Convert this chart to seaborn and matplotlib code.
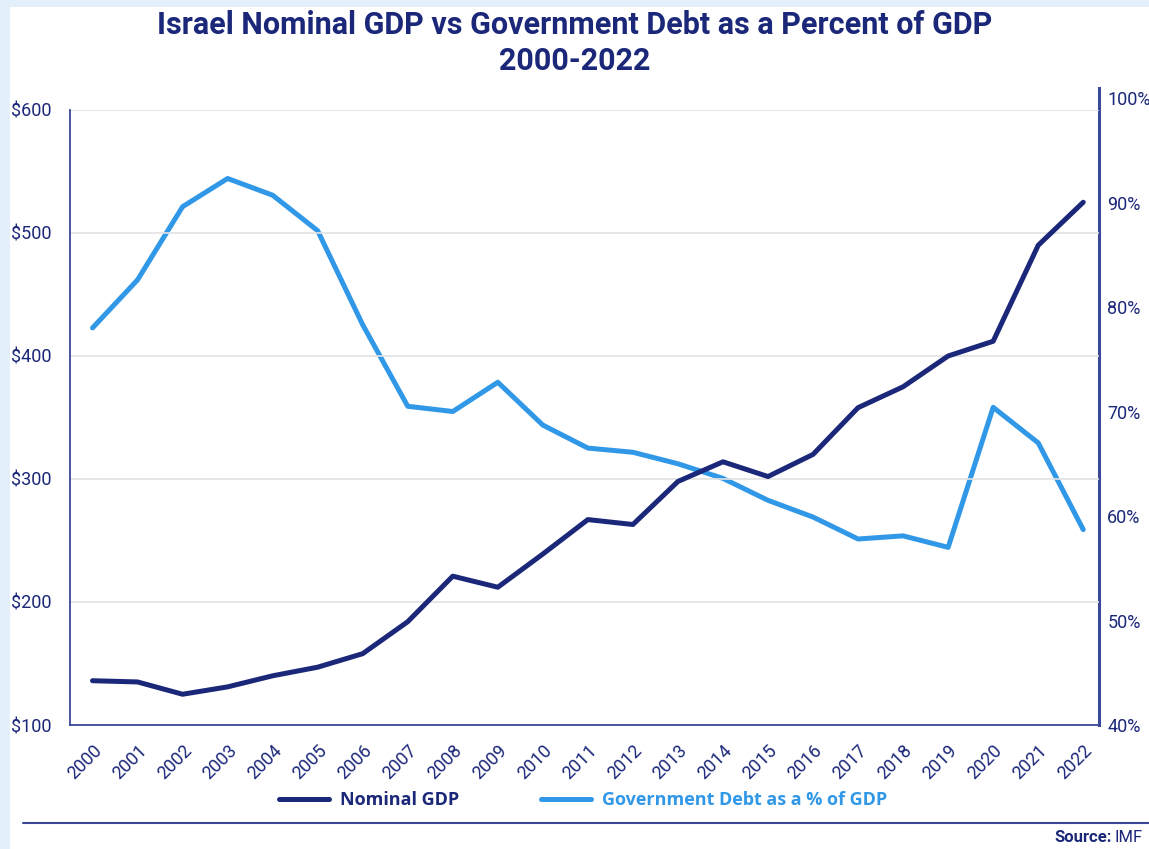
import matplotlib
matplotlib.use("Agg")
import matplotlib.pyplot as plt
import seaborn as sns
import pandas as pd
from matplotlib.patches import Rectangle
from matplotlib.ticker import FuncFormatter

# data
years = [str(y) for y in range(2000, 2023)]
nominal_gdp = [136, 135, 125, 131, 140, 147, 158, 184, 221, 212, 239, 267,
               263, 298, 314, 302, 320, 358, 375, 400, 412, 490, 525]
debt_pct = [78.0, 82.6, 89.6, 92.3, 90.7, 87.3, 78.3, 70.5, 70.0, 72.8, 68.7,
            66.5, 66.1, 65.0, 63.6, 61.5, 59.9, 57.8, 58.1, 57.0, 70.4, 67.0, 58.7]
gdp_ticks = [100, 200, 300, 400, 500, 600]
debt_ticks = [40, 50, 60, 70, 80, 90, 100]

NAVY = "#1b2779"
SPINE = "#3b4899"
LIGHT = "#3198e8"

df = pd.DataFrame({"year": years, "gdp": nominal_gdp, "debt": debt_pct})
df["x"] = range(len(df))

sns.set_style("white")
plt.rcParams["font.family"] = ["Roboto", "DejaVu Sans"]

fig = plt.figure(figsize=(11.49, 8.49), dpi=100)
fig.patch.set_facecolor("#e3f0fb")
fig.patches.append(Rectangle((10 / 1149, 0), 1, 1 - 7 / 849, transform=fig.transFigure,
                             facecolor="white", edgecolor="none", zorder=-5))

# right axis (debt) is a bit taller than the left one in the reference
ax2 = fig.add_axes([70 / 1149, 1 - 725 / 849, 1029 / 1149, 637 / 849])
ax2.patch.set_alpha(0)
ax = fig.add_axes([70 / 1149, 1 - 725 / 849, 1029 / 1149, 615 / 849])
ax.patch.set_alpha(0)

sns.lineplot(data=df, x="x", y="debt", ax=ax2, color=LIGHT, linewidth=3.6,
             label="Government Debt as a % of GDP", legend=False)
sns.lineplot(data=df, x="x", y="gdp", ax=ax, color=NAVY, linewidth=3.6,
             label="Nominal GDP", legend=False)

ax.set_xlim(-0.5, 22.35)
ax2.set_xlim(-0.5, 22.35)
ax.set_ylim(100, 600)
ax2.set_ylim(40, 100.96)

ax.set_yticks(gdp_ticks)
ax.yaxis.set_major_formatter(FuncFormatter(lambda v, p: f"${v:.0f}"))
ax2.yaxis.tick_right()
ax2.set_yticks(debt_ticks)
ax2.yaxis.set_major_formatter(FuncFormatter(lambda v, p: f"{v:.0f}%"))
ax2.set_xticks([])
ax.set_xticks(df["x"])
ax.set_xticklabels(years, rotation=45, ha="right", rotation_mode="anchor")

ax.grid(axis="y", color="#e2e2e2", linewidth=1.2)
ax.grid(axis="x", visible=False)
ax2.grid(False)
for a in (ax, ax2):
    a.set_xlabel("")
    a.set_ylabel("")

for s in ["top", "right"]:
    ax.spines[s].set_visible(False)
for s in ["top", "left", "bottom"]:
    ax2.spines[s].set_visible(False)
for s in ["left", "bottom"]:
    ax.spines[s].set_color(SPINE)
    ax.spines[s].set_linewidth(1.3)
ax2.spines["right"].set_color(SPINE)
ax2.spines["right"].set_linewidth(2.2)

ax.tick_params(axis="y", length=9, width=1.3, color=SPINE, labelcolor=NAVY,
               labelsize=13, pad=4)
ax.tick_params(axis="x", length=9, width=1.3, color=SPINE, labelcolor=NAVY,
               labelsize=13, pad=3)
ax2.tick_params(axis="y", length=0, labelcolor=NAVY, labelsize=13, pad=6)

fig.text(0.5, 1 - 25 / 849, "Israel Nominal GDP vs Government Debt as a Percent of GDP",
         ha="center", va="center", fontsize=22, fontweight="bold", color=NAVY)
fig.text(0.5, 1 - 61 / 849, "2000-2022", ha="center", va="center", fontsize=22,
         fontweight="bold", color=NAVY)

handles = ax.get_lines()[:1] + ax2.get_lines()[:1]
leg = fig.legend(handles, [h.get_label() for h in handles], loc="center",
                 bbox_to_anchor=(583 / 1149, 1 - 800 / 849), ncol=2, frameon=False,
                 handlelength=2.8, handletextpad=0.6, columnspacing=4.5,
                 prop={"family": ["Open Sans", "DejaVu Sans"], "weight": "bold", "size": 13})
for txt, c in zip(leg.get_texts(), [NAVY, LIGHT]):
    txt.set_color(c)

fig.add_artist(plt.Line2D([23 / 1149, 1], [1 - 823 / 849] * 2, transform=fig.transFigure,
                          color=SPINE, linewidth=1.5))
fig.text(1143 / 1149, 1 - 838 / 849, "IMF", ha="right", va="center", fontsize=12,
         color=NAVY)
fig.text(1112 / 1149, 1 - 838 / 849, "Source:", ha="right", va="center", fontsize=12,
         fontweight="bold", color=NAVY)

fig.savefig("out.png", dpi=100)
